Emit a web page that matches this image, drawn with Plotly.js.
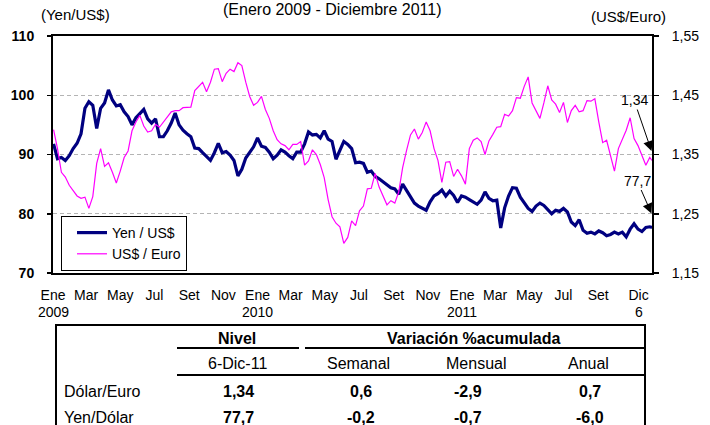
<!DOCTYPE html>
<html>
<head>
<meta charset="utf-8">
<script src="https://cdn.plot.ly/plotly-3.0.1.min.js"></script>
<style>html,body{margin:0;padding:0;background:#fff;}#chart{width:710px;height:425px;}</style>
</head>
<body>
<div id="chart"></div>
<script>
// ---- DATA ----
const startDate = '2009-01-02';   // weekly observations (Fridays) + last day
const lastDate = '2011-12-06';
const yenUsd = [91.8, 89.3, 89.5, 89.0, 89.8, 91.0, 91.9, 93.5, 97.8, 98.9,
 98.3, 94.4, 97.8, 98.7, 100.9, 99.2, 98.2, 98.4, 97.2, 96.4,
 95.0, 96.2, 96.9, 97.6, 96.0, 95.3, 96.0, 93.0, 93.0, 94.0,
 95.3, 97.0, 95.0, 94.1, 93.5, 93.0, 91.1, 91.0, 90.3, 89.6,
 89.0, 90.3, 91.9, 90.3, 90.5, 89.9, 89.0, 86.4, 87.5, 89.4,
 90.3, 91.3, 92.8, 91.4, 91.2, 90.4, 89.3, 89.9, 90.8, 90.4,
 89.8, 89.3, 90.4, 90.4, 91.8, 93.8, 93.3, 93.4, 92.8, 94.0,
 92.6, 92.2, 89.2, 90.8, 92.2, 91.7, 91.0, 88.6, 88.7, 88.5,
 87.0, 87.2, 86.3, 85.9, 85.4, 85.0, 84.4, 84.2, 83.3, 85.0,
 84.0, 83.0, 81.8, 81.3, 81.0, 80.6, 82.0, 83.0, 83.4, 84.0,
 83.0, 83.8, 83.1, 81.9, 83.0, 82.8, 82.4, 82.0, 81.6, 82.3,
 83.7, 82.6, 82.2, 82.3, 77.6, 81.0, 83.0, 84.4, 84.3, 82.8,
 81.8, 80.9, 80.4, 81.3, 81.8, 81.4, 80.7, 80.0, 80.6, 80.4,
 80.9, 80.3, 78.6, 78.0, 79.0, 77.2, 76.7, 76.9, 76.6, 77.1,
 76.8, 76.3, 76.5, 76.9, 76.6, 76.9, 76.1, 77.4, 78.3, 77.4,
 77.0, 77.7, 77.8, 77.7];
const usdEuro = [1.392, 1.360, 1.320, 1.312, 1.298, 1.288, 1.280, 1.276, 1.278, 1.259,
 1.279, 1.335, 1.360, 1.330, 1.336, 1.320, 1.302, 1.322, 1.345, 1.356,
 1.390, 1.405, 1.416, 1.398, 1.388, 1.390, 1.401, 1.396, 1.405, 1.412,
 1.422, 1.424, 1.424, 1.429, 1.430, 1.430, 1.458, 1.465, 1.472, 1.456,
 1.472, 1.494, 1.495, 1.473, 1.487, 1.494, 1.490, 1.505, 1.500, 1.472,
 1.448, 1.433, 1.438, 1.448, 1.426, 1.411, 1.390, 1.375, 1.368, 1.365,
 1.358, 1.367, 1.367, 1.372, 1.332, 1.339, 1.358, 1.350, 1.333, 1.311,
 1.274, 1.245, 1.234, 1.228, 1.200, 1.210, 1.238, 1.230, 1.255, 1.263,
 1.292, 1.293, 1.318, 1.295, 1.280, 1.265, 1.272, 1.268, 1.287, 1.328,
 1.357, 1.383, 1.393, 1.376, 1.387, 1.405, 1.390, 1.360, 1.340, 1.303,
 1.337, 1.338, 1.313, 1.325, 1.314, 1.300, 1.360, 1.374, 1.378, 1.372,
 1.350, 1.373, 1.384, 1.396, 1.397, 1.418, 1.415, 1.424, 1.446, 1.445,
 1.465, 1.481, 1.437, 1.423, 1.411, 1.437, 1.466, 1.442, 1.435, 1.421,
 1.438, 1.404, 1.424, 1.433, 1.422, 1.424, 1.441, 1.440, 1.444, 1.405,
 1.370, 1.374, 1.348, 1.322, 1.360, 1.375, 1.391, 1.412, 1.377, 1.365,
 1.350, 1.332, 1.345, 1.340];

const tickDates = ['2009-01-01','2009-03-01','2009-05-01','2009-07-01','2009-09-01','2009-11-01',
  '2010-01-01','2010-03-01','2010-05-01','2010-07-01','2010-09-01','2010-11-01',
  '2011-01-01','2011-03-01','2011-05-01','2011-07-01','2011-09-01','2011-11-12'];
const tickLabels = ['Ene','Mar','May','Jul','Set','Nov','Ene','Mar','May','Jul','Set','Nov',
  'Ene','Mar','May','Jul','Set','Dic'];
const yearDates = ['2009-01-01','2010-01-01','2011-01-01','2011-11-12'];
const yearLabels = ['2009','2010','2011','6'];

const lastLabels = ['1,34', '77,7'];

// table
const tblHeaderTop = ['Nivel', 'Variación %acumulada'];
const tblColumns = ['6-Dic-11', 'Semanal', 'Mensual', 'Anual'];
const tblRows = ['Dólar/Euro', 'Yen/Dólar'];
const tblNivel = ['1,34', '77,7'];
const tblSemanal = ['0,6', '-0,2'];
const tblMensual = ['-2,9', '-0,7'];
const tblAnual = ['0,7', '-6,0'];

// ---- BUILD ----
const dates = [];
const d0 = new Date(startDate + 'T00:00:00Z');
for (let k = 0; k < yenUsd.length - 1; k++) {
  const d = new Date(d0.getTime() + k * 7 * 86400000);
  dates.push(d.toISOString().slice(0, 10));
}
dates.push(lastDate);

// pixel -> paper helpers (plot area 53..652 x 36..273)
const L = 53, R = 652, T = 36, B = 273;
const PX = x => (x - L) / (R - L);
const PY = y => (B - y) / (B - T);

const FONT = 'Liberation Sans, Arial, Helvetica, sans-serif';

const traces = [
  {x: dates, y: yenUsd, type: 'scatter', mode: 'lines', name: 'Yen / US$',
   line: {color: '#000080', width: 3.2}, yaxis: 'y'},
  {x: dates, y: usdEuro, type: 'scatter', mode: 'lines', name: 'US$ / Euro',
   line: {color: '#FF00FF', width: 1.2}, yaxis: 'y2'}
];

const annotations = [];
const txt = (text, x, y, opts) => Object.assign({text: text, xref: 'paper', yref: 'paper',
  x: PX(x), y: PY(y), showarrow: false, xanchor: 'center', yanchor: 'middle',
  font: {family: FONT, size: 16, color: '#000'}}, opts || {});

annotations.push(txt('(Enero 2009 - Diciembre 2011)', 332, 0, {yanchor: 'top', borderpad: 0}));
annotations.push(txt('(Yen/US$)', 75, 15, {font: {family: FONT, size: 15, color: '#000'}}));
annotations.push(txt('(US$/Euro)', 628, 16.5, {font: {family: FONT, size: 15, color: '#000'}}));

// year row under month ticks
yearDates.forEach((d, i) => {
  annotations.push({text: yearLabels[i], xref: 'x', yref: 'paper', x: d, y: PY(312),
    showarrow: false, xanchor: 'center', yanchor: 'middle',
    font: {family: FONT, size: 14, color: '#000'}});
});

// last-value callouts
annotations.push({text: lastLabels[0], xref: 'paper', yref: 'paper', x: PX(651.5), y: PY(151),
  ax: -17.5, ay: -51, showarrow: true, arrowhead: 2, arrowsize: 2, arrowwidth: 1, arrowcolor: '#000',
  font: {family: FONT, size: 14, color: '#000'}});
annotations.push({text: lastLabels[1], xref: 'paper', yref: 'paper', x: PX(651.5), y: PY(213.5),
  ax: -14.5, ay: -33, showarrow: true, arrowhead: 2, arrowsize: 2, arrowwidth: 1, arrowcolor: '#000',
  font: {family: FONT, size: 14, color: '#000'}});

// table text
const bold = {family: FONT, size: 16, color: '#000', weight: 'bold'};
const reg = {family: FONT, size: 16, color: '#000'};
annotations.push(txt(tblHeaderTop[0], 237, 338, {font: bold}));
annotations.push(txt(tblHeaderTop[1], 474, 338, {font: bold}));
const colX = [237, 358, 476, 588];
const valX = [238, 361, 468, 590];
tblColumns.forEach((c, i) => annotations.push(txt(c, colX[i], 363.5, {font: reg})));
const rowY = [392, 418];
tblRows.forEach((r, i) => {
  annotations.push(txt(r, 62, rowY[i], {xanchor: 'left', font: reg}));
  annotations.push(txt(tblNivel[i], valX[0], rowY[i], {font: bold}));
  annotations.push(txt(tblSemanal[i], valX[1], rowY[i], {font: bold}));
  annotations.push(txt(tblMensual[i], valX[2], rowY[i], {font: bold}));
  annotations.push(txt(tblAnual[i], valX[3], rowY[i], {font: bold}));
});

const ln = (x0, y0, x1, y1, w) => ({type: 'line', xref: 'paper', yref: 'paper',
  x0: PX(x0), y0: PY(y0), x1: PX(x1), y1: PY(y1), line: {color: '#000', width: w || 2}});
const shapes = [
  ln(56, 325, 645, 325), ln(56, 324, 56, 440), ln(645, 324, 645, 440),
  ln(177, 348, 299, 348), ln(305, 348, 645, 348),
  ln(177, 375, 645, 375)
];

const layout = {
  width: 710, height: 425,
  margin: {l: L, r: 710 - R, t: T, b: 425 - B, pad: 0},
  paper_bgcolor: '#fff', plot_bgcolor: '#fff',
  separators: ', ',
  font: {family: FONT, size: 14, color: '#000'},
  showlegend: true,
  legend: {x: PX(61), y: PY(216), xanchor: 'left', yanchor: 'top', bgcolor: '#fff',
    bordercolor: '#000', borderwidth: 1, font: {family: FONT, size: 14, color: '#000'},
    indentation: 10, tracegroupgap: 0},
  xaxis: {type: 'date', range: ['2009-01-01', lastDate], tickmode: 'array',
    tickvals: tickDates, ticktext: tickLabels, ticks: '', showgrid: false,
    showline: true, linecolor: '#000', linewidth: 2, mirror: true, zeroline: false,
    tickfont: {family: FONT, size: 14, color: '#000'}, ticklabelstandoff: 8},
  yaxis: {range: [70, 110], tick0: 70, dtick: 10, ticks: 'outside', ticklen: 4,
    tickwidth: 1.5, tickcolor: '#000', showline: true, linecolor: '#000', linewidth: 2,
    showgrid: true, gridcolor: '#b4b4b4', gridwidth: 1, griddash: '4px,3px', zeroline: false,
    tickfont: {family: FONT, size: 14, color: '#000', weight: 'bold'}, ticklabelstandoff: 10},
  yaxis2: {overlaying: 'y', side: 'right', range: [1.15, 1.55], tick0: 1.15, dtick: 0.1,
    tickformat: '.2f', ticks: 'outside', ticklen: 5, tickwidth: 1.5, tickcolor: '#000',
    showline: true, linecolor: '#000', linewidth: 2, showgrid: false, zeroline: false,
    tickfont: {family: FONT, size: 14, color: '#000'}, ticklabelstandoff: 10},
  annotations: annotations,
  shapes: shapes
};

Plotly.newPlot('chart', traces, layout, {staticPlot: true, displayModeBar: false});
</script>
</body>
</html>
